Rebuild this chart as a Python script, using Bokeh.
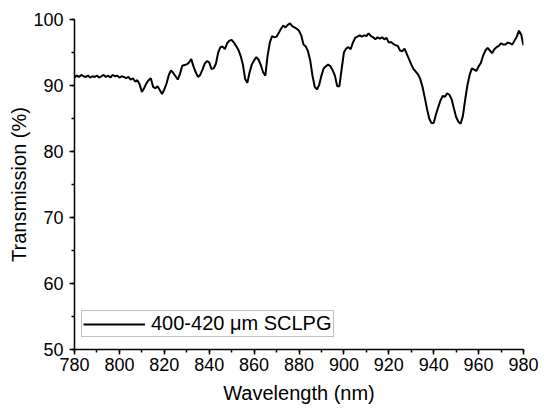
from bokeh.plotting import figure
from bokeh.models import SingleIntervalTicker, Legend, LegendItem, Range1d
from bokeh.embed import file_html
from bokeh.resources import INLINE

# Wavelength in nm (1 nm steps) and transmission in %
wavelength = list(range(780, 981))
transmission = [
    91.2, 91.5, 91.3, 91.6, 91.4, 91.3, 91.5, 91.2, 91.4, 91.3,   # 780-789
    91.5, 91.2, 91.4, 91.6, 91.3, 91.5, 91.2, 91.6, 91.4, 91.5,   # 790-799
    91.2, 91.4, 91.3, 91.1, 91.3, 90.9, 91.1, 90.6, 90.8, 90.2,   # 800-809
    89.0, 89.6, 90.3, 90.8, 91.1, 89.8, 89.6, 89.9, 89.3, 88.7,   # 810-819
    89.4, 90.3, 91.6, 92.3, 91.9, 91.4, 90.9, 91.8, 93.0, 93.1,   # 820-829
    93.2, 93.5, 94.0, 92.9, 92.0, 91.3, 91.6, 92.4, 93.3, 93.7,   # 830-839
    93.5, 92.5, 92.6, 93.3, 95.0, 95.8, 95.9, 95.5, 96.4, 96.8,   # 840-849
    96.9, 96.5, 96.0, 95.4, 94.5, 93.2, 91.0, 90.4, 92.0, 93.2,   # 850-859
    93.8, 94.3, 93.9, 93.1, 92.0, 91.5, 94.5, 96.5, 97.5, 97.3,   # 860-869
    97.4, 98.0, 98.6, 99.1, 98.8, 99.2, 99.4, 99.0, 98.8, 98.6,   # 870-879
    98.3, 97.6, 96.2, 95.9, 95.2, 93.8, 91.5, 89.8, 89.4, 90.1,   # 880-889
    91.5, 92.6, 92.9, 93.2, 92.9, 92.3, 91.5, 89.9, 89.9, 92.5,   # 890-899
    95.0, 95.6, 95.8, 95.5, 96.5, 97.2, 97.4, 97.6, 97.4, 97.6,   # 900-909
    97.5, 97.9, 97.5, 97.3, 97.0, 97.3, 97.1, 97.3, 97.0, 97.2,   # 910-919
    96.5, 96.6, 96.3, 96.1, 96.0, 95.3, 95.2, 95.6, 94.8, 94.0,   # 920-929
    93.2, 92.5, 92.1, 91.7, 91.0, 89.8, 88.2, 86.5, 85.0, 84.3,   # 930-939
    84.3, 85.6, 86.7, 87.7, 88.4, 88.3, 88.8, 88.6, 87.9, 86.5,   # 940-949
    85.2, 84.5, 84.2, 85.4, 87.8, 90.0, 91.6, 92.6, 92.4, 92.2,   # 950-959
    92.9, 93.4, 94.5, 95.3, 95.7, 95.3, 94.9, 95.5, 95.8, 96.0,   # 960-969
    96.4, 96.2, 96.2, 96.5, 96.4, 96.2, 96.8, 97.4, 98.3, 97.7,   # 970-979
    96.1,                                                         # 980
]
assert len(wavelength) == len(transmission)

series_label = "400-420 \u03bcm SCLPG"
x_title = "Wavelength (nm)"
y_title = "Transmission (%)"

FONT = "Liberation Sans"

p = figure(width=544, height=408,
           x_range=Range1d(780, 980), y_range=Range1d(50, 100),
           output_backend="svg", toolbar_location=None,
           min_border_left=74, min_border_right=21,
           min_border_top=19, min_border_bottom=59)
p.outline_line_color = None
p.grid.visible = False
p.background_fill_color = "white"
p.border_fill_color = "white"

r = p.line(wavelength, transmission, line_color="black", line_width=2)

p.xaxis.ticker = SingleIntervalTicker(interval=20, num_minor_ticks=2)
p.yaxis.ticker = SingleIntervalTicker(interval=10, num_minor_ticks=2)
p.xaxis.axis_label = x_title
p.yaxis.axis_label = y_title

for ax in (p.xaxis, p.yaxis):
    ax.axis_line_color = "black"
    ax.axis_line_width = 1.5
    ax.major_tick_line_color = "black"
    ax.major_tick_line_width = 1.5
    ax.minor_tick_line_color = "black"
    ax.minor_tick_line_width = 1.5
    ax.major_tick_out = 5
    ax.major_tick_in = 0
    ax.minor_tick_out = 3
    ax.minor_tick_in = 0
    ax.major_label_text_font = FONT
    ax.major_label_text_font_size = "18px"
    ax.major_label_text_color = "black"
    ax.axis_label_text_font = FONT
    ax.axis_label_text_font_size = "20px"
    ax.axis_label_text_font_style = "normal"
    ax.axis_label_text_color = "black"

p.xaxis.major_label_standoff = 3
p.xaxis.axis_label_standoff = 8
p.yaxis.major_label_standoff = 6
p.yaxis.axis_label_standoff = 0

legend = Legend(items=[LegendItem(label=series_label, renderers=[r])],
                location=(7, 12))
legend.label_text_font = FONT
legend.label_text_font_size = "20px"
legend.label_text_line_height = 1.0
legend.label_text_color = "black"
legend.border_line_color = "#808080"
legend.border_line_width = 1
legend.background_fill_color = "white"
legend.background_fill_alpha = 1
legend.padding = 1
legend.margin = 0
legend.spacing = 0
legend.glyph_width = 62
legend.glyph_height = 20
legend.label_height = 20
legend.label_standoff = 6
p.add_layout(legend)

open("out.html", "w").write(file_html(p, INLINE))
